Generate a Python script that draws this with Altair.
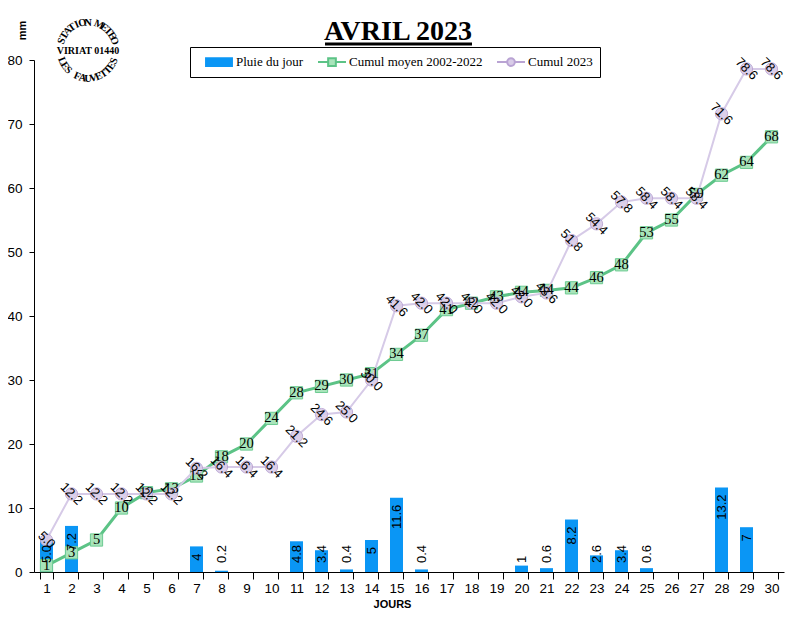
import altair as alt
import pandas as pd
import numpy as np

jours = list(range(1, 31))
pluie = [5.0, 7.2, 0, 0, 0, 0, 4, 0.2, 0, 0, 4.8, 3.4, 0.4, 5, 11.6, 0.4, 0, 0, 0, 1,
         0.6, 8.2, 2.6, 3.4, 0.6, 0, 0, 13.2, 7, 0]
pluie_labels = ["5.0", "7.2", "", "", "", "", "4", "0.2", "", "", "4.8", "3.4", "0.4", "5",
                "11.6", "0.4", "", "", "", "1", "0.6", "8.2", "2.6", "3.4", "0.6", "", "",
                "13.2", "7", ""]
cumul_moyen = [1, 3, 5, 10, 12.4, 13, 15, 18, 20, 24, 28, 29, 30, 31, 34, 37, 41, 42, 43,
               43.7, 44, 44.4, 46, 48, 53, 55, 59, 62, 64, 68]
cumul_2023 = [5.0, 12.2, 12.2, 12.2, 12.2, 12.2, 16.2, 16.4, 16.4, 16.4, 21.2, 24.6, 25.0,
              30.0, 41.6, 42.0, 42.0, 42.0, 42.0, 43.0, 43.6, 51.8, 54.4, 57.8, 58.4, 58.4,
              58.4, 71.6, 78.6, 78.6]
series = ["Pluie du jour", "Cumul moyen 2002-2022", "Cumul 2023"]
y_ticks = [0, 10, 20, 30, 40, 50, 60, 70, 80]
titre = "AVRIL 2023"
logo_top = "STATION METEO"
logo_mid = "VIRIAT 01440"
logo_bot = "LES FAUVETTES"

BLUE = "#0A96F5"
GREEN = "#5CC386"
GREEN_FILL = "#A8E4BA"
GREEN_STROKE = "#6DCB92"
PURPLE = "#D6CAE7"
PURPLE_FILL = "#D9CCE8"
PURPLE_STROKE = "#B9A3D3"
SANS = "Liberation Sans"
SERIF = "Liberation Serif"

df = pd.DataFrame({"jour": jours, "pluie": pluie, "lbl": pluie_labels,
                   "moyen": cumul_moyen, "c2023": cumul_2023})

x_axis = alt.Axis(title="JOURS", labelAngle=0, labelFont=SANS, labelFontSize=13.5,
                  labelColor="black", tickBand="extent", tickSize=7, tickColor="black",
                  domainColor="black", grid=False, labelPadding=2,
                  titleFont=SANS, titleFontSize=11, titleFontWeight="bold", titleColor="black",
                  titleX=358, titleY=32, titleBaseline="middle", titleAlign="center")
y_axis = alt.Axis(title="mm", values=y_ticks, labelFont=SANS, labelFontSize=13.5,
                  labelColor="black", tickSize=5, tickColor="black", domainColor="black",
                  grid=False, labelPadding=7,
                  titleFont=SANS, titleFontSize=11, titleFontWeight="bold", titleColor="black",
                  titleAngle=270, titleX=-12, titleY=-30, titleAlign="center",
                  titleBaseline="middle")
x_scale = alt.Scale(paddingInner=0.48, paddingOuter=0.24)
y_scale = alt.Scale(domain=[0, 80], nice=False)


def X():
    return alt.X("jour:O", scale=x_scale, axis=x_axis, title="JOURS")


def Y(field):
    return alt.Y(field, type="quantitative", scale=y_scale, axis=y_axis, title="mm")


base = alt.Chart(df)

bars = base.mark_bar(color=BLUE).encode(x=X(), y=Y("pluie"))

fit_expr = "datum.pluie > 0 && datum.pluie >= (length(datum.lbl) > 1 ? 5.6 : 3.5)"
low_expr = "datum.pluie > 0 && datum.pluie < (length(datum.lbl) > 1 ? 5.6 : 3.5)"

bar_lbl_top = base.transform_filter(fit_expr).mark_text(
    angle=270, align="right", baseline="middle", dx=-7, font=SANS, fontSize=13, color="black"
).encode(x=X(), y=Y("pluie"), text="lbl:N")

bar_lbl_low = base.transform_filter(low_expr).mark_text(
    angle=270, align="left", baseline="middle", dx=9, font=SANS, fontSize=13, color="black"
).encode(x=X(), y=alt.Y(datum=0, scale=y_scale, axis=y_axis, title="mm"), text="lbl:N")

line_moy = base.mark_line(color=GREEN, strokeWidth=3).encode(x=X(), y=Y("moyen"))
pts_moy = base.mark_point(shape="square", size=150, filled=True, fill=GREEN_FILL,
                          stroke=GREEN_STROKE, strokeWidth=1, opacity=1).encode(
    x=X(), y=Y("moyen"))

line_23 = base.mark_line(color=PURPLE, strokeWidth=2).encode(x=X(), y=Y("c2023"))
pts_23 = base.mark_point(shape="circle", size=150, filled=True, fill=PURPLE_FILL,
                         stroke=PURPLE_STROKE, strokeWidth=1, opacity=0.9).encode(
    x=X(), y=Y("c2023"))

lbl_moy = base.mark_text(font=SERIF, fontSize=14.5, color="black", baseline="middle").encode(
    x=X(), y=Y("moyen"), text=alt.Text("moyen:Q", format=".0f"))
lbl_23 = base.mark_text(font=SANS, fontSize=13, color="black", baseline="middle",
                        angle=45).encode(
    x=X(), y=Y("c2023"), text=alt.Text("c2023:Q", format=".1f"))

# legend (drawn by Vega from scales; the layer itself has no marks)
rect_path = "M-1.85,-0.55H1.85V0.55H-1.85Z"
sq_path = "M-2,0H-0.55M0.55,0H2M-0.55,-0.55H0.55V0.55H-0.55Z"
circ_path = ("M-2,0H-0.55M0.55,0H2M0.55,0A0.55,0.55,0,1,1,-0.55,0"
             "A0.55,0.55,0,1,1,0.55,0Z")
leg = alt.Legend(orient="none", legendX=156, legendY=-13, direction="horizontal",
                 title=None, strokeColor="black", fillColor="white", padding=7,
                 labelFont=SERIF, labelFontSize=13, labelColor="black",
                 symbolSize=196, symbolStrokeWidth=2, symbolOffset=14, labelOffset=9,
                 columnPadding=6, symbolOpacity=1)
leg_df = pd.DataFrame({"serie": series})
legend_layer = alt.Chart(leg_df).transform_filter("datum.serie == 'aucune'").mark_point(
    filled=True, strokeWidth=2, opacity=1).encode(
    fill=alt.Fill("serie:N", scale=alt.Scale(domain=series,
                  range=[BLUE, GREEN_FILL, PURPLE_FILL]), legend=leg),
    stroke=alt.Stroke("serie:N", scale=alt.Scale(domain=series,
                      range=[BLUE, GREEN, PURPLE_STROKE]), legend=leg),
    shape=alt.Shape("serie:N", scale=alt.Scale(domain=series,
                    range=[rect_path, sq_path, circ_path]), legend=leg),
)

# title + underline
one = pd.DataFrame({"t": [0]})
title_txt = alt.Chart(one).mark_text(font=SERIF, fontSize=28, fontWeight="bold",
                                     color="black", baseline="alphabetic",
                                     align="center").encode(
    x=alt.value(364), y=alt.value(-20), text=alt.value(titre))
title_rule = alt.Chart(one).mark_rule(color="black", strokeWidth=3).encode(
    x=alt.value(291), x2=alt.value(438), y=alt.value(-16))

# logo (stamp text on a circle)
cx, cy, r = 54.0, -9.5, 28.0
rows = []
th_top = np.linspace(160, 20, len(logo_top))
for ch, th in zip(logo_top, th_top):
    t = np.radians(th)
    rows.append({"ch": ch, "lx": cx + r * np.cos(t), "ly": cy - r * np.sin(t),
                 "ang": (90 - th) % 360})
th_bot = np.linspace(202, 338, len(logo_bot))
for ch, th in zip(logo_bot, th_bot):
    t = np.radians(th)
    rows.append({"ch": ch, "lx": cx + r * np.cos(t), "ly": cy - r * np.sin(t),
                 "ang": (270 - th) % 360})
logo_df = pd.DataFrame(rows)
logo_arc = alt.Chart(logo_df).mark_text(font=SERIF, fontSize=10.5, fontWeight="bold",
                                        color="black", baseline="middle",
                                        align="center").encode(
    x=alt.X("lx:Q", scale=None, axis=None),
    y=alt.Y("ly:Q", scale=None, axis=None),
    angle=alt.Angle("ang:Q", scale=None),
    text="ch:N")
logo_c = alt.Chart(one).mark_text(font=SERIF, fontSize=10, fontWeight="bold",
                                  color="black", baseline="middle", align="center").encode(
    x=alt.value(cx), y=alt.value(cy), text=alt.value(logo_mid))

chart = alt.layer(
    bars, line_moy, pts_moy, line_23, pts_23, bar_lbl_top, bar_lbl_low, lbl_moy, lbl_23,
    legend_layer, title_txt, title_rule, logo_arc, logo_c
).properties(
    width=750, height=512,
    autosize=alt.AutoSizeParams(type="none"),
    padding={"left": 26, "top": 52, "right": 8, "bottom": 46},
    background="white",
).configure_view(stroke=None)

chart.save("out.html", embed_options={"renderer": "svg", "actions": False})
